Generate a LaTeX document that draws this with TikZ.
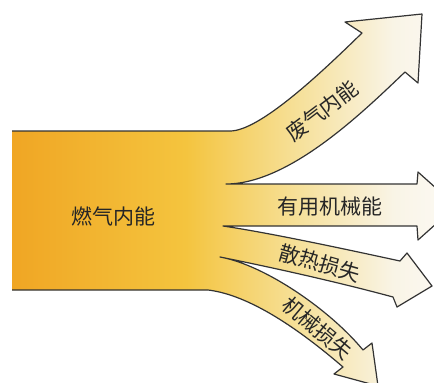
\documentclass[tikz,border=0pt]{standalone}
\usepackage{fontspec}
\newfontfamily\cjk{Noto Sans CJK SC}
\definecolor{fuelA}{RGB}{240,166,36}
\definecolor{fuelB}{RGB}{244,196,62}
\definecolor{fuelC}{RGB}{246,224,152}
\definecolor{fuelD}{RGB}{249,244,230}
\definecolor{fuelE}{RGB}{252,250,245}
\pgfdeclarehorizontalshading{fuelfade}{100bp}{color(0bp)=(fuelA); color(25bp)=(fuelA); color(44.5bp)=(fuelB); color(57bp)=(fuelC); color(68bp)=(fuelD); color(75bp)=(fuelE); color(100bp)=(fuelE)}
% outline of the flow: source band, then the four arrows from top to bottom
\newcommand{\flowpath}{(12,131) -- (230,131)
  .. controls (260,131) and (322,72) .. (362,33) -- (345,22) -- (422,14) -- (418,83) -- (405,72)
  .. controls (365,110) and (290,184) .. (226,184)
  -- (417,184) -- (418,172) -- (456,206) -- (418,240) -- (417,226) -- (223,226)
  .. controls (270,233) and (340,248) .. (400,261) -- (407,253) -- (432,286) -- (397,307) -- (393,297)
  .. controls (330,280) and (260,265) .. (220,257)
  .. controls (265,265) and (330,310) .. (363,350) -- (372,343) -- (378,386) -- (334,374) -- (343,367)
  .. controls (300,330) and (250,295) .. (208,290) -- (12,290)}

\begin{document}
\begin{tikzpicture}[
  x=1pt, y=-1pt,
  edge/.style={draw=black!80, line width=1.2pt, line join=round},
  lbl/.style={font=\cjk\fontsize{21}{24}\selectfont, text=black!85, inner sep=0pt},
]
\fill[white] (0,0) rectangle (434,383);
\useasboundingbox (0,0) rectangle (434,383);
\clip (0,0) rectangle (434,383);
% ---- flow band ----
\path[shading=fuelfade] \flowpath -- cycle;
\draw[edge] \flowpath;
% ---- labels ----
\node[lbl] (fuel) at (113,216) {燃气内能};
\node[lbl, rotate=37] (exhaust) at (322,111) {废气内能};
\node[lbl] (useful) at (330,207) {有用机械能};
\node[lbl, rotate=-16] (heatloss) at (320,263) {散热损失};
\node[lbl, rotate=-40] (mechloss) at (318,328) {机械损失};
\end{tikzpicture}
\end{document}
